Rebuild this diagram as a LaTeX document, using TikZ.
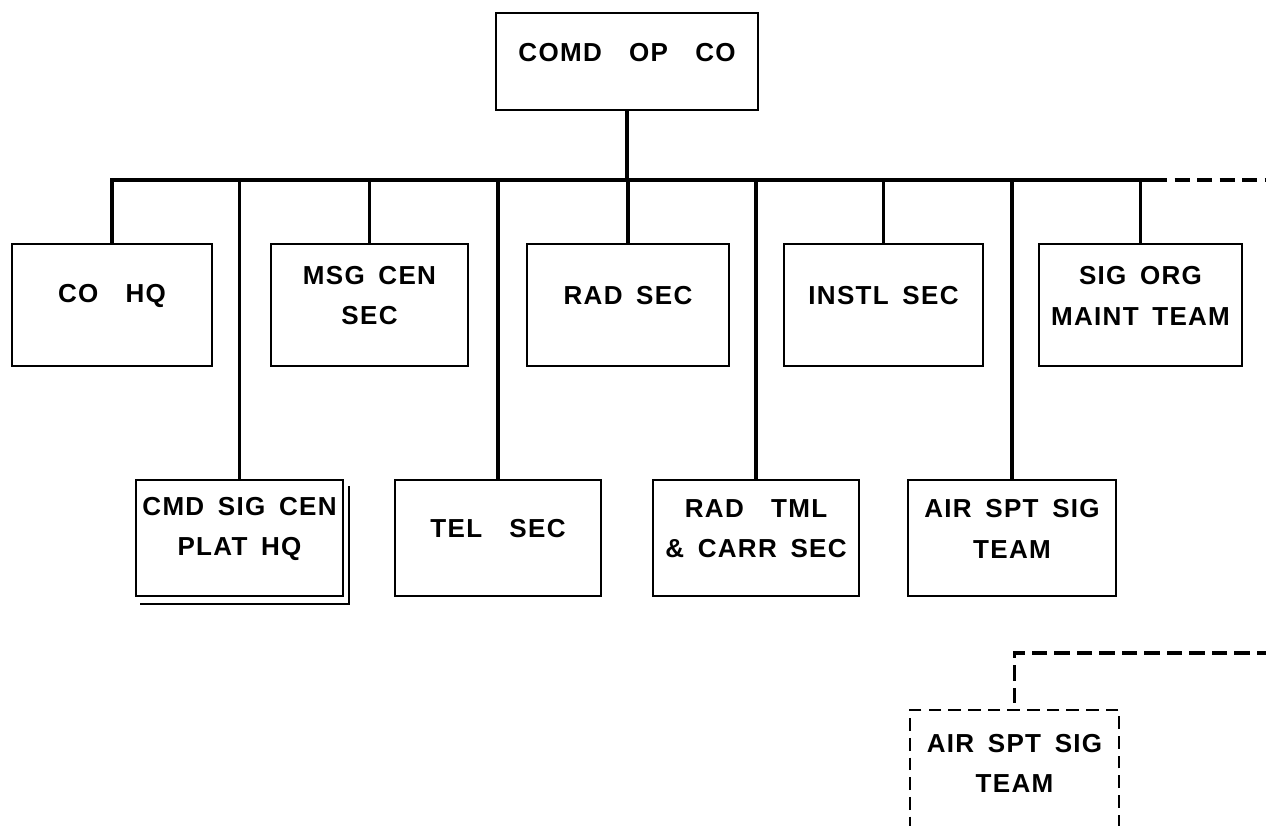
\documentclass[tikz,border=0pt]{standalone}
\usepackage{fontspec}
\setmainfont{Liberation Sans}[LetterSpace=5, WordSpace=1.6]
\usepackage{tikz}
\usetikzlibrary{fit}

\tikzset{
	box/.style={draw, line width=1.4pt, inner sep=0pt, align=center, font=\bfseries\fontsize{18.5}{28.5}\selectfont, execute at begin node={\rule{0pt}{28pt}}},
	dbox/.style={box, dash pattern=on 9pt off 5pt},
	bar/.style={line width=2.8pt},
	dbar/.style={line width=2.8pt, dash pattern=on 11pt off 5pt}
}

\begin{document}
\begin{tikzpicture}[x=0.025cm, y=-0.025cm]
		\useasboundingbox (0,0) rectangle (1266,825);
		\coordinate (bus) at (0,180);
		\coordinate (brk) at (1152,180);
		\coordinate (rise) at (1268,653);

		\node[box, fit={(496,13)(758,110)}](top){COMD\ \ OP\ \ CO};

		\begin{scope}
				\foreach \nm/\xa/\xb/\tx in{
						coHQ/12/212/{CO\ \ HQ},
						msg/271/468/{MSG CEN\\SEC},
						rad/527/729/{RAD SEC},
						instl/784/983/{INSTL SEC},
						sig/1039/1242/{SIG ORG\\MAINT TEAM}
				}{
				\node[box, fit={(\xa,244)(\xb,366)}](\nm){\tx};
				\draw[bar] (\nm.north) -- (\nm.north |- bus);
				}
		\end{scope}

		\begin{scope}
				\foreach \nm/\xa/\xb/\tx in{
						cmd/136/343/{CMD SIG CEN\\PLAT HQ},
						tel/395/601/{TEL\ \ SEC},
						tml/653/859/{RAD\ \ TML\\\& CARR SEC},
						air/908/1116/{AIR SPT SIG\\TEAM}
				}{
				\node[box, fit={(\xa,480)(\xb,596)}](\nm){\tx};
				\draw[bar] (\nm.north) -- (\nm.north |- bus);
				}
				\draw[line width=1.4pt] ([shift={(5,7)}]cmd.north east) |- ([shift={(5,7)}]cmd.south west);
		\end{scope}

		\draw[bar] (top.south) -- (top.south |- bus);
		\draw[bar] (coHQ.north) |- (brk);

		\node[dbox, fit={(910,710)(1119,835)}](airB){AIR SPT SIG\\TEAM};
		\draw[dbar] (brk) -| (rise) -| (airB.north);
\end{tikzpicture}
\end{document}
